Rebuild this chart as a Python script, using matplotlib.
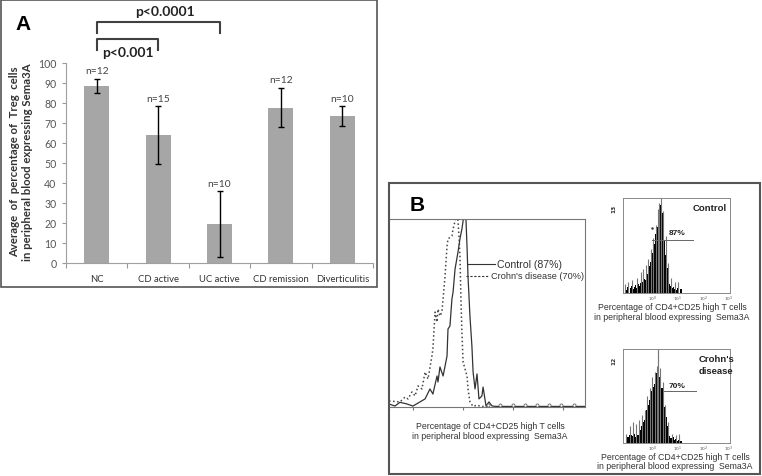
import numpy as np
import matplotlib
matplotlib.use("Agg")
import matplotlib.pyplot as plt
from matplotlib.patches import Rectangle

W, H = 762, 477

# ---- panel A: bar chart ----
groups = ["NC", "CD active", "UC active", "CD remission", "Diverticulitis"]
means = [88.5, 64.0, 19.5, 77.7, 73.5]
errs = [3.7, 14.5, 16.5, 9.9, 4.8]
n_labels = ["n=12", "n=15", "n=10", "n=12", "n=10"]

# ---- panel B: overlay histogram (channel 0-100, counts 0-100) ----
ctrl_x = [0, 3, 5.6, 9.2, 12.2, 15.8, 18.4, 20.9, 22.4, 24.5, 25.0, 26.0, 27.6, 29.6,
          30.1, 31.1, 32.1, 32.7, 33.7, 35.2, 36.2, 37.2, 37.8, 38.5, 39.3, 39.8,
          40.3, 41.3, 42.3, 42.9, 43.9, 44.9, 45.9, 47.4, 48.0, 49.5, 51.0, 52.6, 55.1, 100]
ctrl_y = [1.6, 0.5, 2.5, 1.6, 0.5, 2.7, 4.3, 9.6, 6.9, 16.5, 13.3, 21.3, 16.5, 27.1,
          41.5, 43.1, 57.4, 61.2, 73.4, 82.4, 89.4, 94.7, 98.9, 108, 98.9, 85.6,
          69.7, 48.4, 32.4, 18.6, 9.6, 17.6, 4.3, 5.9, 10.6, 0.5, 2.7, 0.5, 0.3, 0.3]
crohn_x = [0, 5.6, 8.2, 9.7, 11.7, 13.3, 14.8, 16.8, 18.4, 19.9, 21.9, 22.4, 23.5, 24.5,
           25.0, 26.0, 27.0, 28.6, 29.6, 30.1, 32.1, 32.7, 33.7, 34.4, 35.2, 35.7, 36.2,
           36.7, 37.2, 37.8, 39.8, 40.3, 41.3, 42.9, 44.9, 46.9, 50.0]
crohn_y = [3.2, 2.7, 5.3, 4.3, 8.0, 5.9, 11.2, 9.6, 18.6, 14.9, 27.1, 30.9, 50.5, 45.2,
           52.1, 48.4, 50.5, 69.7, 85.6, 89.4, 91.0, 94.7, 98.9, 106, 98.9, 91.0, 80.3,
           57.4, 39.9, 23.9, 16.5, 9.6, 2.7, 0.3, 1.0, 0.3, 0.3]
tail_marks_x = [50.5, 56.6, 63.3, 69.4, 75.5, 81.6, 87.8, 94.4]
big_ticks = [12.2, 37.8, 63.3, 88.8]

# ---- panel B: single histograms (log10 decades, 0.05 bins from -1.2) ----
bin_start, bin_w = -1.2, 0.05
ctrl_hist = [4, 0, 5, 3, 6, 0, 5, 7, 4, 6, 8, 5, 9, 7, 11, 13, 12, 15, 14, 20, 24, 28,
             33, 42, 47, 52, 62, 70, 78, 86, 93, 84, 70, 55, 40, 26, 16, 10, 7, 5, 6,
             4, 3, 5, 2, 0, 4, 0]
crohn_hist = [0, 0, 0, 3, 6, 8, 5, 9, 7, 10, 6, 12, 9, 11, 14, 18, 22, 25, 28, 35, 40,
              46, 50, 55, 60, 63, 68, 74, 78, 70, 66, 58, 48, 38, 28, 18, 12, 7, 5, 4,
              6, 3, 4, 2, 3, 0, 2, 0]
ctrl_spike_x = [-1.1, -0.98, -0.82, -0.62, -0.47, -0.38, -0.28, -0.18, -0.08, 0.02,
                0.12, 0.22, 0.27, 0.32, 0.42, 0.52, 0.62, 0.72, 0.88, 1.02]
ctrl_spike_y = [10, 12, 14, 16, 22, 25, 30, 36, 46, 58, 72, 88, 95, 100, 86, 60, 32,
                16, 12, 12]
crohn_spike_x = [-1.05, -0.9, -0.78, -0.65, -0.52, -0.42, -0.32, -0.22, -0.12, -0.02,
                 0.08, 0.18, 0.22, 0.3, 0.4, 0.5, 0.6, 0.75, 0.92, 1.05]
crohn_spike_y = [10, 18, 22, 20, 24, 30, 35, 50, 58, 70, 76, 82, 100, 80, 65, 40, 22,
                 10, 8, 10]
decade_labels = ["$10^0$", "$10^1$", "$10^2$", "$10^3$"]

caption1 = "Percentage of CD4+CD25 high T cells"
caption2 = "in peripheral blood expressing  Sema3A"

fa = "Lato"
fb = "Liberation Sans"


def rect(l, t, r, b):
    return [l / W, 1 - b / H, (r - l) / W, (b - t) / H]


fig = plt.figure(figsize=(W / 100, H / 100), dpi=100)

# ---------------- panel A ----------------
axA = fig.add_axes(rect(66, 64, 373, 264))
x = np.arange(len(groups))
axA.bar(x, means, width=0.41, color="#a6a6a6", yerr=errs, capsize=2.2,
        error_kw=dict(ecolor="black", elinewidth=1.0, capthick=1.0))
axA.set_xlim(-0.5, 4.5)
axA.set_ylim(0, 100)
axA.set_yticks(range(0, 101, 10))
axA.set_xticks(np.arange(-0.5, 5, 1))
axA.set_xticklabels([])
axA.set_xticks(x, minor=True)
axA.set_xticklabels(groups, minor=True, fontsize=6.8, family=fa, color="#333")
axA.tick_params(axis="x", which="minor", length=0, pad=8)
axA.tick_params(axis="x", which="major", length=3.5, color="#999")
axA.tick_params(axis="y", length=3, color="#999", labelsize=7.6, labelcolor="#555", pad=4)
for lab in axA.get_yticklabels():
    lab.set_family(fa)
for s in ["top", "right"]:
    axA.spines[s].set_visible(False)
for s in ["left", "bottom"]:
    axA.spines[s].set_color("#a0a0a0")

for xi, m, e, n in zip(x, means, errs, n_labels):
    axA.annotate(n, (xi, m + e), xytext=(0, 2.5), textcoords="offset points",
                 ha="center", va="bottom", fontsize=7.4, family=fa, color="#444")

# significance brackets
axA.plot([0, 0, 2, 2], [115, 120.5, 120.5, 115], color="#404040", lw=1.5, clip_on=False)
axA.plot([0, 0, 1, 1], [106.5, 112, 112, 106.5], color="#404040", lw=1.5, clip_on=False)
axA.text(1.11, 126, "p<0.0001", ha="center", va="center", fontsize=10,
         fontweight="bold", family=fa, color="#222")
axA.text(0.51, 105.5, "p<0.001", ha="center", va="center", fontsize=10,
         fontweight="bold", family=fa, color="#222")

# ---------------- panel B: overlay ----------------
axB = fig.add_axes(rect(389, 220, 585, 408))
axB.plot(ctrl_x, ctrl_y, "-", color="#333", lw=0.9)
axB.plot(crohn_x, crohn_y, ":", color="#444", lw=1.1)
axB.plot(tail_marks_x, np.ones(len(tail_marks_x)), "o", ms=2.2, mfc="white",
         mec="#666", mew=0.6, clip_on=False)
axB.set_xlim(0, 100)
axB.set_ylim(0, 100)
axB.set_xticks(big_ticks)
axB.set_xticklabels([])
axB.set_yticks([])
axB.tick_params(axis="x", length=2.5, color="#777")
axB.spines["left"].set_visible(False)
for s in ["top", "right", "bottom"]:
    axB.spines[s].set_color("#777")
    axB.spines[s].set_linewidth(0.8)

axB.plot([40.3, 54.1], [76.1, 76.1], "-", color="#333", lw=0.8)
axB.text(55.1, 76.1, "Control (87%)", va="center", fontsize=7.6, family=fb, color="#333")
axB.plot([39.3, 50.5], [69.7, 69.7], "--", color="#333", lw=0.8, dashes=(2, 1.5))
axB.text(52.0, 69.7, "Crohn's disease (70%)", va="center", fontsize=6.6, family=fb,
         color="#333")

# ---------------- panel B: single histograms ----------------


def small_hist(ax, heights, spx, spy):
    edges = bin_start + bin_w * np.arange(len(heights) + 1)
    ax.vlines(spx, 0, spy, color="#777", lw=0.8)
    ax.stairs(heights, edges, fill=True, color="black")
    ax.set_xlim(-1.17, 3.06)
    ax.set_ylim(0, 100)
    ax.set_yticks([])
    ax.set_xticks(range(4))
    ax.set_xticklabels(decade_labels, fontsize=3.2, color="#555")
    ax.tick_params(axis="x", length=0, pad=0.8)
    for s in ax.spines.values():
        s.set_color("#888")
        s.set_linewidth(0.7)


hC = fig.add_axes(rect(623, 199, 730, 294))
small_hist(hC, ctrl_hist, ctrl_spike_x, ctrl_spike_y)
hC.plot([-0.04, 1.58], [56, 56], color="#666", lw=0.7)
hC.plot([-0.04], [68], ".", color="#333", ms=1.5)
hC.text(0.97, 0.9, "Control", transform=hC.transAxes, ha="right", va="center",
        fontsize=6.8, fontweight="bold", family=fb, color="#222")
hC.text(0.98, 63.5, "87%", ha="center", va="center", fontsize=6, fontweight="bold",
        family=fb, color="#222")
hC.text(-0.085, 0.9, "13", transform=hC.transAxes, rotation=90, ha="center",
        va="center", fontsize=4.2, fontweight="bold", color="#333")

hD = fig.add_axes(rect(623, 350, 730, 444))
small_hist(hD, crohn_hist, crohn_spike_x, crohn_spike_y)
hD.axvline(0.2, color="#777", lw=0.8, ls="--", dashes=(3, 1))
hD.plot([0.45, 1.72], [55, 55], color="#666", lw=0.7)
hD.text(0.87, 0.9, "Crohn's", transform=hD.transAxes, ha="center", va="center",
        fontsize=6.8, fontweight="bold", family=fb, color="#222")
hD.text(0.87, 0.77, "disease", transform=hD.transAxes, ha="center", va="center",
        fontsize=6.8, fontweight="bold", family=fb, color="#222")
hD.text(0.98, 61.5, "70%", ha="center", va="center", fontsize=6, fontweight="bold",
        family=fb, color="#222")
hD.text(-0.085, 0.88, "12", transform=hD.transAxes, rotation=90, ha="center",
        va="center", fontsize=4.2, fontweight="bold", color="#333")

# ---------------- overlay: frames, panel letters, captions ----------------
ov = fig.add_axes([0, 0, 1, 1])
ov.set_xlim(0, W)
ov.set_ylim(H, 0)
ov.axis("off")
ov.add_patch(Rectangle((1, 1), 376, 287, fill=False, ec="#555", lw=1.2))
ov.add_patch(Rectangle((389, 184), 371, 291, fill=False, ec="#555", lw=1.5))

ov.text(23, 25, "A", ha="center", va="center", fontsize=15, fontweight="bold", family=fb)
ov.text(417, 206, "B", ha="center", va="center", fontsize=15, fontweight="bold", family=fb)

ov.text(15, 162, "Average  of  percentage of  Treg  cells", rotation=90, ha="center",
        va="center", fontsize=8.2, fontweight="bold", family=fa, color="#333")
ov.text(27.5, 162, "in peripheral blood expressing Sema3A", rotation=90, ha="center",
        va="center", fontsize=8.2, fontweight="bold", family=fa, color="#333")

for cx, y1, y2 in [(490, 427, 437), (672, 308, 318), (675, 458, 467)]:
    ov.text(cx, y1, caption1, ha="center", va="center", fontsize=6.3, family=fb, color="#333")
    ov.text(cx, y2, caption2, ha="center", va="center", fontsize=6.3, family=fb, color="#333")

fig.savefig("out.png", dpi=100)
